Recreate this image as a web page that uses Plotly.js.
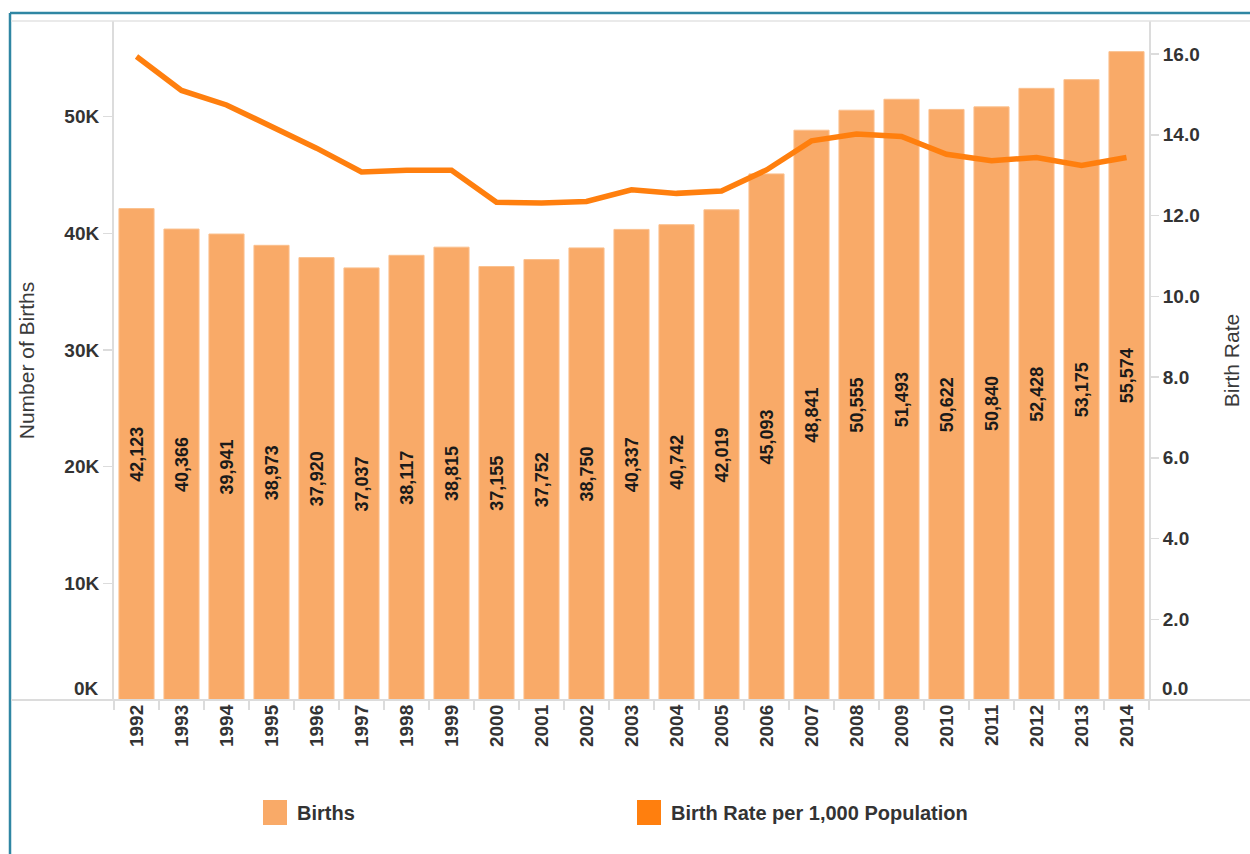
<!DOCTYPE html>
<html>
<head>
<meta charset="utf-8">
<script src="https://cdn.plot.ly/plotly-3.0.1.min.js"></script>
<style>
  html, body { margin: 0; padding: 0; background: #ffffff; }
  #chart { width: 1250px; height: 854px; }
</style>
</head>
<body>
<div id="chart"></div>
<script>
// ---- Data ----
const years = ['1992','1993','1994','1995','1996','1997','1998','1999','2000','2001','2002','2003','2004','2005','2006','2007','2008','2009','2010','2011','2012','2013','2014'];
const births = [42123,40366,39941,38973,37920,37037,38117,38815,37155,37752,38750,40337,40742,42019,45093,48841,50555,51493,50622,50840,52428,53175,55574];
const birthRate = [15.94,15.10,14.74,14.21,13.67,13.08,13.12,13.12,12.33,12.31,12.35,12.64,12.55,12.61,13.13,13.85,14.02,13.96,13.52,13.36,13.44,13.24,13.44];
const leftTickVals = [0,10000,20000,30000,40000,50000];
const leftTickText = ['0K','10K','20K','30K','40K','50K'];
const rightTickVals = [0,2,4,6,8,10,12,14,16];
const rightTickText = ['0.0','2.0','4.0','6.0','8.0','10.0','12.0','14.0','16.0'];
const seriesNames = ['Births','Birth Rate per 1,000 Population'];
const axisTitles = ['Number of Births','Birth Rate'];

// ---- Layout geometry (pixels) ----
const W = 1250, H = 854;
const L = 114, R = 1149, T = 21, B = 700;
const PW = R - L, PH = B - T;
const px = x => (x - L) / PW;
const py = y => (B - y) / PH;

const barColor = '#F9AA68';
const lineColor = '#FF7F0E';
const teal = '#2F86A3';
const grey = '#DCDCDC';
const font = 'Liberation Sans, Arial, sans-serif';
const tickFont = { family: font, size: 19, color: '#333333', weight: 'bold' };

// Tableau nudges the bottom-edge labels upward; draw them as annotations
const leftTickShown = leftTickText.map((t, i) => leftTickVals[i] === 0 ? '' : t);
const rightTickShown = rightTickText.map((t, i) => rightTickVals[i] === 0 ? '' : t);

const traces = [
  {
    type: 'bar',
    name: seriesNames[0],
    x: years,
    y: births,
    marker: { color: barColor, line: { color: '#FBC08E', width: 1 } },
    texttemplate: '%{y:,}',
    textposition: 'inside',
    insidetextanchor: 'middle',
    textangle: -90,
    constraintext: 'none',
    insidetextfont: { family: font, size: 18, color: '#1a1a1a', weight: 'bold' },
    hoverinfo: 'x+y',
    showlegend: false,
    yaxis: 'y'
  },
  {
    type: 'scatter',
    mode: 'lines',
    name: seriesNames[1],
    x: years,
    y: birthRate,
    line: { color: lineColor, width: 5.5 },
    showlegend: false,
    yaxis: 'y2'
  }
];

const shapes = [
  // teal frame (left and top)
  { type: 'line', xref: 'paper', yref: 'paper', x0: px(10), x1: px(10), y0: py(13), y1: py(860), line: { color: teal, width: 2.5 } },
  { type: 'line', xref: 'paper', yref: 'paper', x0: px(10), x1: px(1260), y0: py(13), y1: py(13), line: { color: teal, width: 2.5 } },
  // light grey top border and baseline across the pane
  { type: 'line', xref: 'paper', yref: 'paper', x0: px(11), x1: px(1260), y0: 1, y1: 1, line: { color: '#E3E3E3', width: 1.5 } },
  { type: 'line', xref: 'paper', yref: 'paper', x0: px(11), x1: px(1260), y0: 0, y1: 0, line: { color: grey, width: 2 } },
  // legend swatches
  { type: 'rect', xref: 'paper', yref: 'paper', x0: px(263), x1: px(287), y0: py(800), y1: py(825), fillcolor: barColor, line: { width: 0 } },
  { type: 'rect', xref: 'paper', yref: 'paper', x0: px(637), x1: px(661), y0: py(800), y1: py(825), fillcolor: lineColor, line: { width: 0 } }
];

const annotations = [
  { xref: 'paper', yref: 'paper', x: px(295), y: py(812.5), xanchor: 'left', yanchor: 'middle', showarrow: false,
    text: seriesNames[0], font: { family: font, size: 20, color: '#333333', weight: 'bold' } },
  { xref: 'paper', yref: 'paper', x: px(669), y: py(812.5), xanchor: 'left', yanchor: 'middle', showarrow: false,
    text: seriesNames[1], font: { family: font, size: 20, color: '#333333', weight: 'bold' } },
  { xref: 'paper', yref: 'paper', x: px(101), y: py(688), xanchor: 'right', yanchor: 'middle', showarrow: false,
    text: leftTickText[leftTickVals.indexOf(0)], font: tickFont },
  { xref: 'paper', yref: 'paper', x: px(1160), y: py(688), xanchor: 'left', yanchor: 'middle', showarrow: false,
    text: rightTickText[rightTickVals.indexOf(0)], font: tickFont }
];

const layout = {
  width: W, height: H,
  margin: { l: L, r: W - R, t: T, b: H - B, pad: 0 },
  paper_bgcolor: '#ffffff',
  plot_bgcolor: '#ffffff',
  bargap: 0.22,
  showlegend: false,
  font: { family: font, color: '#333333' },
  xaxis: {
    type: 'category',
    tickangle: -90,
    tickson: 'boundaries',
    ticks: 'outside',
    ticklen: 9,
    tickwidth: 1.5,
    tickcolor: grey,
    showgrid: false,
    showline: false,
    zeroline: false,
    tickfont: tickFont
  },
  yaxis: {
    range: [0, 58200],
    tickvals: leftTickVals,
    ticktext: leftTickShown,
    ticks: 'outside',
    ticklen: 9,
    tickwidth: 1.5,
    tickcolor: grey,
    showgrid: false,
    zeroline: false,
    showline: true,
    linecolor: grey,
    linewidth: 2,
    tickfont: tickFont,
    title: { text: axisTitles[0], standoff: 24, font: { family: font, size: 21, color: '#3a3a3a' } }
  },
  yaxis2: {
    overlaying: 'y',
    side: 'right',
    range: [0, 16.82],
    tickvals: rightTickVals,
    ticktext: rightTickShown,
    ticks: 'outside',
    ticklen: 8,
    tickwidth: 1.5,
    tickcolor: grey,
    showgrid: false,
    zeroline: false,
    showline: true,
    linecolor: grey,
    linewidth: 2,
    tickfont: tickFont,
    title: { text: axisTitles[1], standoff: 26, font: { family: font, size: 21, color: '#3a3a3a' } }
  },
  shapes: shapes,
  annotations: annotations
};

Plotly.newPlot('chart', traces, layout, { displayModeBar: false, staticPlot: true });
</script>
</body>
</html>
